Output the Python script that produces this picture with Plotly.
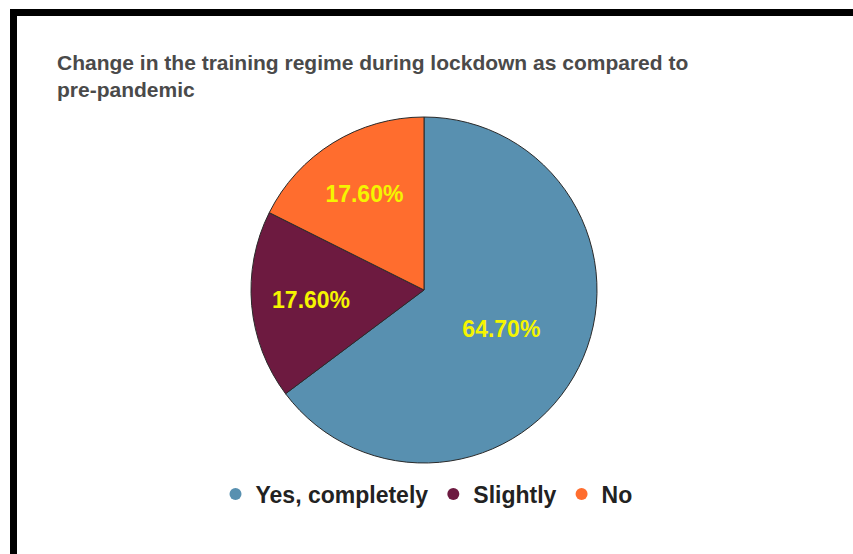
import plotly.graph_objects as go

W, H = 853, 554

labels = ["Yes, completely", "Slightly", "No"]
values = [64.7, 17.6, 17.6]
colors = ["#5890b0", "#6d1a40", "#ff6d2e"]
title_text = "Change in the training regime during lockdown as compared to<br>pre-pandemic"

cx, cy, r = 424, 290, 173

fig = go.Figure()
fig.add_trace(go.Pie(
    labels=labels, values=values, sort=False, direction="clockwise", rotation=0,
    marker=dict(colors=colors, line=dict(color="#2a2a2a", width=1)),
    texttemplate="%{value:.2f}%", textposition="inside", insidetextorientation="horizontal",
    textfont=dict(family="Liberation Sans, Arial", size=23, color="#f5f500", weight="bold"),
    showlegend=False, hoverinfo="skip",
    domain=dict(x=[(cx - r) / W, (cx + r) / W], y=[1 - (cy + r) / H, 1 - (cy - r) / H]),
))
for lab, col in zip(labels, colors):
    fig.add_trace(go.Scatter(x=[None], y=[None], mode="markers", name=lab,
                             marker=dict(symbol="circle", size=15, color=col)))

fig.update_layout(
    width=W, height=H, margin=dict(l=0, r=0, t=0, b=0),
    paper_bgcolor="white", plot_bgcolor="white",
    xaxis=dict(visible=False), yaxis=dict(visible=False),
    title=dict(text=title_text, x=57 / W, xanchor="left", y=1 - 70 / H, yanchor="top",
               font=dict(family="Liberation Sans, Arial", size=21, color="#4a4a4a", weight="bold")),
    legend=dict(orientation="h", x=0.5, xanchor="center", y=1 - 494 / H, yanchor="middle",
                font=dict(family="Liberation Sans, Arial", size=23, color="#222222", weight="bold"),
                itemsizing="constant", itemwidth=30, bgcolor="rgba(0,0,0,0)"),
    shapes=[
        dict(type="rect", xref="paper", yref="paper", x0=10 / W, x1=1, y0=1 - 16 / H, y1=1 - 9 / H,
             fillcolor="black", line=dict(width=0)),
        dict(type="rect", xref="paper", yref="paper", x0=10 / W, x1=17 / W, y0=0, y1=1 - 9 / H,
             fillcolor="black", line=dict(width=0)),
    ],
)
fig.write_html("out.html")
